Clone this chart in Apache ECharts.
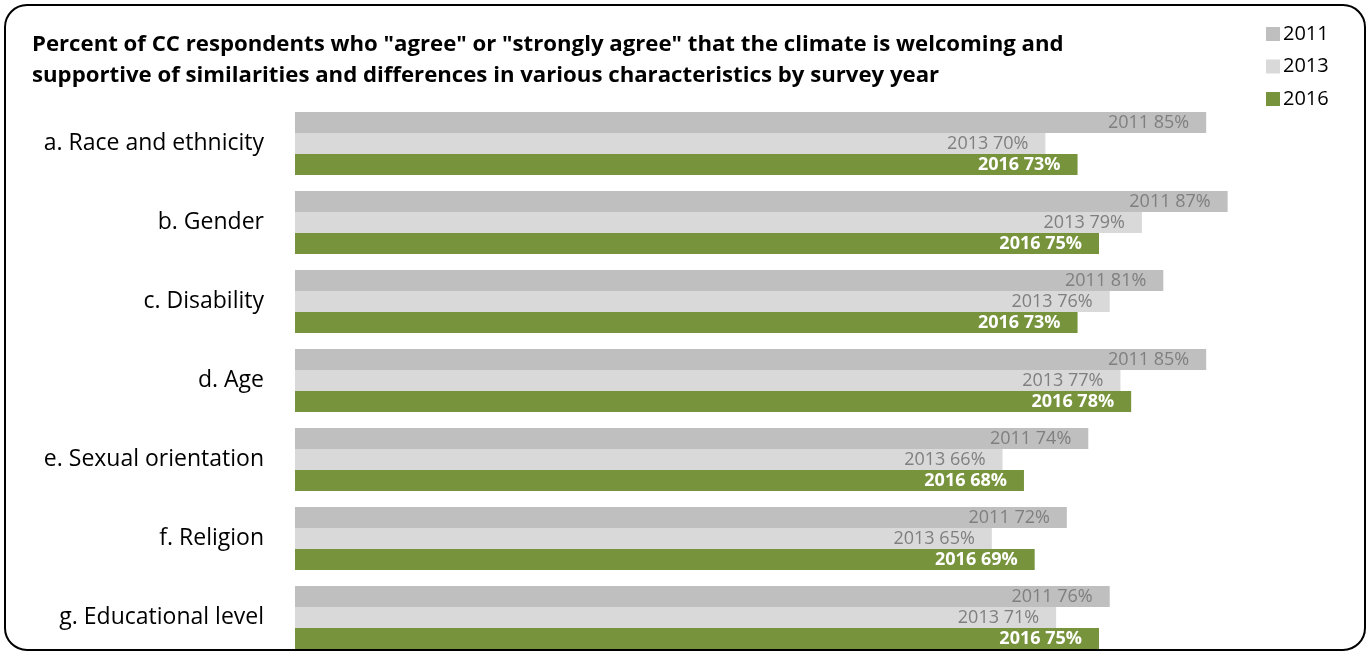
<!DOCTYPE html>
<html><head><meta charset="utf-8">
<script src="https://cdn.jsdelivr.net/npm/echarts@6/dist/echarts.min.js"></script>
<style>html,body{margin:0;padding:0;background:#fff;overflow:hidden;width:1369px;height:652px}#c{width:1369px;height:664px}</style>
</head><body><div id="c"></div>
<script>
var categories = ["a. Race and ethnicity","b. Gender","c. Disability","d. Age","e. Sexual orientation","f. Religion","g. Educational level"];
var years = ["2011","2013","2016"];
var v2011 = [85,87,81,85,74,72,76];
var v2013 = [70,79,76,77,66,65,71];
var v2016 = [73,75,73,78,68,69,75];
var titleText = 'Percent of CC respondents who "agree" or "strongly agree" that the climate is welcoming and\nsupportive of similarities and differences in various characteristics by survey year';

var FONT = '"Open Sans", sans-serif';
var chart = echarts.init(document.getElementById('c'));
function mk(name, data, color, labColor, bold){
  return {
    name: name, type: 'bar', data: data, barWidth: 21, barGap: '0%',
    itemStyle: {color: color},
    label: {show: true, position: 'insideRight', distance: 17,
      formatter: function(p){ return name + ' ' + p.value + '%'; },
      color: labColor, fontFamily: FONT, fontSize: 18, fontWeight: bold ? 'bold' : 'normal'},
    emphasis: {disabled: true}
  };
}
chart.setOption({
  animation: false,
  title: {text: titleText, left: 27, top: 24,
    textStyle: {fontFamily: FONT, fontSize: 22.2, fontWeight: 'bold', color: '#000', lineHeight: 31}},
  legend: {orient: 'vertical', left: 1261, top: 19, itemWidth: 14, itemHeight: 14, itemGap: 12.5,
    icon: 'rect', data: years,
    textStyle: {fontFamily: FONT, fontSize: 20, color: '#000', padding: [0,0,0,-2]}},
  grid: {left: 295, right: 2, top: 104, height: 553, containLabel: false},
  xAxis: {type: 'value', min: 0, max: 100, show: false},
  yAxis: {type: 'category', inverse: true, data: categories,
    axisLine: {show: false}, axisTick: {show: false},
    axisLabel: {margin: 31, fontFamily: FONT, fontSize: 23, color: '#000'}},
  graphic: [{type: 'rect', shape: {x: 5, y: 5, width: 1360, height: 645, r: 22},
    style: {fill: 'none', stroke: '#000', lineWidth: 2}, z: 100}],
  series: [
    mk('2011', v2011, '#BFBFBF', '#7F7F7F', false),
    mk('2013', v2013, '#D9D9D9', '#7F7F7F', false),
    mk('2016', v2016, '#77933C', '#FFFFFF', true)
  ]
});
</script></body></html>
